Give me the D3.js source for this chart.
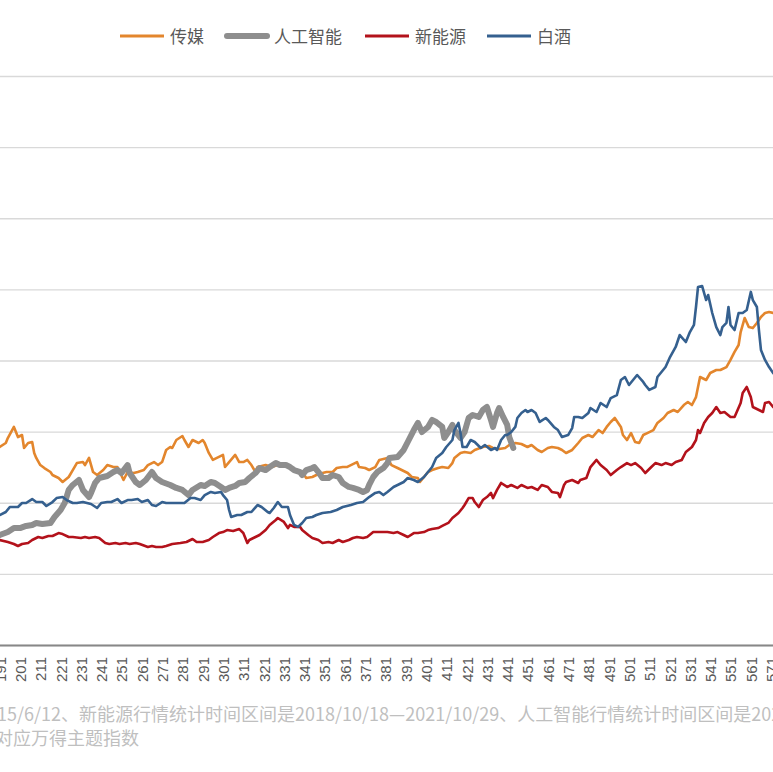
<!DOCTYPE html>
<html>
<head>
<meta charset="utf-8">
<script src="https://cdn.jsdelivr.net/npm/d3@7"></script>
<style>
  body { margin: 0; background: #fff; }
  svg { display: block; }
</style>
</head>
<body>
<div id="chart"></div>
<script>
// series names / colours in legend order
const seriesNames = ["传媒", "人工智能", "新能源", "白酒"];
const seriesColors = ["#E3862D", "#8E8E8E", "#B3121B", "#35608F"];
const seriesWidths = [2.6, 6, 2.6, 2.6];

// x = trading-day index, y = relative value
const mediaSeries = [[189,1.38],[191,1.392],[194,1.420],[195,1.455],[198,1.533],[200,1.462],[202,1.476],[203,1.385],[205,1.420],[207,1.427],[208,1.350],[209,1.315],[211,1.265],[213,1.244],[216,1.216],[217,1.195],[220,1.174],[222,1.146],[225,1.181],[227,1.230],[229,1.279],[232,1.286],[233,1.265],[235,1.315],[237,1.216],[239,1.195],[242,1.230],[244,1.265],[247,1.251],[249,1.251],[252,1.160],[254,1.216],[257,1.209],[259,1.216],[262,1.230],[264,1.265],[267,1.286],[269,1.265],[271,1.286],[273,1.371],[275,1.392],[276,1.385],[278,1.441],[281,1.469],[282,1.441],[284,1.392],[286,1.441],[289,1.420],[291,1.441],[292,1.420],[294,1.350],[296,1.301],[298,1.315],[301,1.336],[302,1.251],[304,1.286],[307,1.336],[309,1.286],[311,1.286],[313,1.301],[315,1.265],[317,1.216],[318,1.251],[322,1.265],[325,1.251],[328,1.265],[331,1.265],[334,1.251],[337,1.230],[340,1.216],[342,1.174],[345,1.181],[347,1.195],[350,1.209],[352,1.216],[355,1.216],[357,1.244],[360,1.251],[362,1.251],[365,1.272],[367,1.286],[368,1.251],[371,1.244],[373,1.230],[376,1.251],[378,1.301],[382,1.315],[384,1.265],[387,1.244],[389,1.230],[392,1.209],[394,1.181],[397,1.174],[398,1.146],[400,1.181],[402,1.216],[404,1.230],[407,1.244],[409,1.251],[412,1.244],[414,1.279],[415,1.315],[418,1.350],[420,1.357],[423,1.350],[425,1.371],[429,1.392],[432,1.399],[434,1.385],[437,1.378],[440,1.385],[442,1.406],[445,1.420],[448,1.413],[451,1.392],[453,1.406],[456,1.371],[458,1.357],[461,1.385],[463,1.392],[466,1.385],[468,1.371],[470,1.350],[473,1.371],[476,1.420],[478,1.455],[481,1.476],[483,1.462],[486,1.511],[488,1.490],[490,1.533],[492,1.568],[494,1.596],[497,1.533],[498,1.476],[500,1.441],[502,1.490],[504,1.427],[506,1.420],[508,1.476],[510,1.490],[513,1.511],[515,1.561],[518,1.596],[520,1.631],[523,1.652],[525,1.638],[528,1.687],[530,1.708],[532,1.687],[534,1.743],[535,1.814],[536,1.884],[539,1.863],[541,1.912],[544,1.933],[546,1.933],[549,1.954],[551,2.004],[553,2.060],[555,2.109],[556,2.200],[558,2.299],[560,2.235],[562,2.228],[564,2.264],[566,2.306],[568,2.334],[570,2.341],[572,2.334],[574,2.320]];

const aiSeries = [[189,0.76],[191,0.773],[195,0.794],[198,0.822],[201,0.822],[204,0.837],[207,0.844],[209,0.858],[212,0.851],[216,0.858],[218,0.900],[221,0.949],[223,0.998],[225,1.090],[227,1.125],[230,1.160],[232,1.090],[235,1.040],[236,1.069],[238,1.139],[240,1.174],[244,1.188],[247,1.216],[249,1.230],[251,1.209],[254,1.265],[255,1.209],[258,1.146],[260,1.125],[263,1.160],[266,1.216],[268,1.174],[271,1.146],[275,1.125],[278,1.104],[281,1.090],[284,1.054],[286,1.090],[290,1.125],[292,1.118],[295,1.146],[297,1.139],[300,1.111],[302,1.090],[304,1.104],[307,1.118],[309,1.139],[312,1.146],[314,1.174],[317,1.209],[319,1.244],[322,1.230],[324,1.251],[327,1.279],[329,1.265],[332,1.265],[334,1.251],[336,1.230],[339,1.216],[340,1.195],[342,1.230],[345,1.244],[346,1.251],[348,1.216],[350,1.174],[353,1.174],[355,1.195],[358,1.181],[360,1.139],[363,1.111],[365,1.104],[368,1.090],[370,1.076],[372,1.090],[373,1.125],[375,1.181],[377,1.216],[380,1.244],[382,1.279],[383,1.315],[387,1.322],[390,1.371],[392,1.427],[395,1.511],[397,1.561],[399,1.497],[402,1.533],[404,1.582],[406,1.568],[409,1.533],[410,1.455],[412,1.497],[414,1.547],[415,1.511],[418,1.455],[420,1.497],[422,1.596],[424,1.617],[427,1.603],[429,1.652],[431,1.673],[433,1.582],[434,1.533],[436,1.631],[437,1.666],[439,1.603],[441,1.547],[442,1.462],[444,1.385]];

const energySeries = [[189,0.74],[191,0.738],[195,0.724],[198,0.710],[200,0.696],[202,0.710],[205,0.717],[207,0.738],[210,0.759],[212,0.752],[215,0.766],[217,0.766],[220,0.787],[222,0.780],[225,0.759],[227,0.759],[231,0.752],[233,0.759],[235,0.752],[238,0.759],[240,0.752],[243,0.717],[245,0.710],[248,0.717],[250,0.710],[253,0.717],[255,0.710],[258,0.717],[260,0.710],[264,0.689],[266,0.696],[268,0.689],[271,0.689],[273,0.696],[276,0.710],[280,0.717],[283,0.724],[286,0.745],[288,0.724],[291,0.724],[294,0.738],[296,0.759],[299,0.787],[301,0.794],[303,0.808],[306,0.801],[309,0.815],[311,0.787],[313,0.717],[314,0.738],[317,0.759],[319,0.773],[322,0.808],[324,0.844],[327,0.879],[328,0.893],[331,0.865],[333,0.822],[334,0.844],[336,0.830],[339,0.830],[340,0.808],[343,0.773],[345,0.752],[348,0.738],[350,0.717],[353,0.724],[355,0.717],[358,0.738],[360,0.724],[363,0.738],[365,0.752],[367,0.759],[370,0.752],[372,0.759],[375,0.794],[377,0.794],[380,0.794],[382,0.794],[385,0.787],[387,0.794],[390,0.773],[392,0.759],[395,0.787],[397,0.787],[400,0.794],[402,0.808],[404,0.815],[407,0.822],[409,0.837],[412,0.858],[414,0.893],[417,0.928],[419,0.963],[420,0.984],[422,1.033],[424,1.033],[425,1.005],[427,0.970],[429,1.019],[431,1.040],[433,1.069],[434,1.033],[436,1.090],[438,1.139],[441,1.111],[443,1.125],[446,1.104],[448,1.125],[451,1.104],[453,1.111],[456,1.090],[458,1.125],[461,1.111],[463,1.076],[466,1.069],[467,1.040],[469,1.125],[470,1.146],[473,1.160],[476,1.139],[477,1.160],[480,1.174],[482,1.251],[485,1.301],[487,1.265],[490,1.230],[492,1.195],[495,1.230],[497,1.251],[500,1.279],[502,1.265],[504,1.279],[507,1.244],[509,1.209],[512,1.251],[514,1.279],[517,1.265],[519,1.279],[522,1.265],[524,1.286],[527,1.301],[529,1.357],[532,1.392],[534,1.441],[535,1.511],[536,1.490],[538,1.561],[540,1.603],[542,1.631],[544,1.673],[546,1.631],[548,1.638],[551,1.603],[553,1.603],[556,1.701],[557,1.772],[559,1.814],[561,1.743],[562,1.673],[565,1.652],[567,1.638],[568,1.701],[570,1.708],[572,1.673],[574,1.66]];

const liquorSeries = [[189,0.90],[191,0.914],[194,0.935],[196,0.970],[200,0.970],[202,0.998],[204,0.998],[207,1.026],[209,1.005],[212,1.005],[214,0.977],[217,1.005],[219,1.033],[222,1.040],[224,1.019],[227,0.998],[229,0.998],[232,1.005],[234,0.998],[236,0.991],[239,0.963],[241,0.998],[244,1.005],[246,1.005],[249,1.026],[251,0.998],[254,1.019],[256,1.019],[259,1.026],[261,1.005],[264,1.019],[266,0.984],[268,0.977],[271,1.005],[273,0.998],[276,0.998],[280,0.998],[282,0.998],[285,1.033],[287,1.033],[290,1.019],[292,1.054],[295,1.076],[297,1.069],[300,1.076],[301,1.054],[303,1.019],[304,0.949],[305,0.900],[308,0.914],[310,0.914],[313,0.935],[315,0.935],[318,0.984],[320,0.970],[323,0.935],[324,0.928],[326,0.963],[328,1.005],[330,0.970],[333,0.970],[334,0.914],[336,0.844],[338,0.830],[340,0.858],[342,0.893],[345,0.900],[347,0.914],[350,0.928],[354,0.935],[357,0.949],[360,0.970],[364,0.984],[367,0.998],[370,1.005],[373,1.040],[376,1.069],[378,1.076],[380,1.054],[382,1.076],[385,1.111],[387,1.125],[390,1.146],[392,1.174],[395,1.160],[397,1.146],[400,1.181],[402,1.216],[404,1.251],[406,1.315],[409,1.350],[411,1.392],[414,1.441],[415,1.511],[417,1.561],[418,1.490],[419,1.392],[421,1.392],[423,1.441],[425,1.427],[428,1.385],[430,1.406],[433,1.371],[435,1.385],[436,1.371],[438,1.441],[440,1.476],[441,1.476],[443,1.497],[445,1.533],[446,1.596],[448,1.631],[450,1.652],[451,1.638],[453,1.652],[455,1.631],[457,1.568],[460,1.596],[461,1.582],[464,1.533],[466,1.511],[468,1.462],[471,1.476],[473,1.525],[474,1.603],[476,1.603],[478,1.596],[481,1.631],[482,1.666],[485,1.638],[487,1.701],[490,1.673],[492,1.736],[495,1.757],[497,1.863],[499,1.884],[501,1.828],[503,1.863],[505,1.898],[508,1.849],[509,1.828],[511,1.793],[514,1.814],[515,1.884],[517,1.919],[519,1.954],[521,2.018],[524,2.095],[526,2.179],[529,2.130],[531,2.200],[533,2.250],[534,2.376],[535,2.517],[537,2.524],[539,2.425],[540,2.460],[542,2.334],[544,2.235],[546,2.179],[547,2.235],[549,2.264],[550,2.376],[551,2.250],[553,2.214],[555,2.334],[557,2.334],[559,2.355],[561,2.482],[562,2.425],[564,2.376],[565,2.214],[566,2.074],[568,2.004],[570,1.954],[572,1.912],[574,1.884]];

// category tick labels that fall inside the crop, every 10 days
const xTicks = [191,201,211,221,231,241,251,261,271,281,291,301,311,321,331,341,351,361,371,381,391,401,411,421,431,441,451,461,471,481,491,501,511,521,531,541,551,561,571];
const yTicks = [0, 0.5, 1, 1.5, 2, 2.5, 3, 3.5, 4];

const noteLines = [
  "15/6/12、新能源行情统计时间区间是2018/10/18—2021/10/29、人工智能行情统计时间区间是202",
  "对应万得主题指数"
];

const allSeries = [mediaSeries, aiSeries, energySeries, liquorSeries];

const W = 773, H = 772;
const svg = d3.select("#chart").append("svg")
  .attr("width", W)
  .attr("height", H);

// the picture is a crop: the plot starts well left of the frame
let xCrop = d3.scaleLinear().domain([201, 571]).range([20, 771.1]);
const xFullDomain = [1, 600];
const xScale = xCrop.copy().domain(xFullDomain).range(xFullDomain.map(xCrop));
const yScale = d3.scaleLinear().domain([0, 4]).range([645, 76]);

const plotLeft = xScale(1), plotRight = xScale(600);

// horizontal gridlines (value labels are outside the crop, so none drawn)
const yAxis = svg.append("g")
  .attr("transform", "translate(" + plotLeft + ",0)")
  .call(d3.axisLeft(yScale).tickValues(yTicks)
    .tickSize(-(plotRight - plotLeft))
    .tickFormat(""));
yAxis.select(".domain").remove();
yAxis.selectAll(".tick text").remove();
yAxis.selectAll(".tick line")
  .attr("stroke", "#d9d9d9")
  .attr("stroke-width", 1.4);

// lines, drawn in series order
const line = d3.line()
  .x(d => xScale(d[0]))
  .y(d => yScale(d[1]));

svg.append("g").selectAll("path.series")
  .data(allSeries)
  .enter().append("path")
  .attr("class", "series")
  .attr("d", line)
  .attr("fill", "none")
  .attr("stroke", (d, i) => seriesColors[i])
  .attr("stroke-width", (d, i) => seriesWidths[i])
  .attr("stroke-linejoin", "round")
  .attr("stroke-linecap", "round");

// bottom category axis
const xAxis = svg.append("g")
  .attr("transform", "translate(0," + yScale(0) + ")")
  .call(d3.axisBottom(xScale).tickValues(xTicks).tickSize(0).tickSizeOuter(0));
xAxis.select(".domain")
  .attr("stroke", "#878787")
  .attr("stroke-width", 2);
xAxis.selectAll(".tick text")
  .attr("transform", "rotate(-90)")
  .attr("x", -12)
  .attr("y", 0)
  .attr("dy", "0.36em")
  .style("text-anchor", "end")
  .style("font-family", "'Liberation Sans', Arial, sans-serif")
  .style("font-size", "15px")
  .attr("fill", "#595959");

// legend
const legendX = [120, 224, 365, 487];
const legend = svg.append("g").attr("transform", "translate(0,36)");
seriesNames.forEach((name, i) => {
  const g = legend.append("g").attr("transform", "translate(" + legendX[i] + ",0)");
  g.append("line")
    .attr("x1", i === 1 ? 3 : 0).attr("x2", i === 1 ? 43 : 44)
    .attr("y1", 0).attr("y2", 0)
    .attr("stroke", seriesColors[i])
    .attr("stroke-width", i === 1 ? 6 : 3)
    .attr("stroke-linecap", i === 1 ? "round" : "butt");
  g.append("text")
    .attr("x", 50)
    .attr("y", 6.5)
    .style("font-family", "'Noto Sans CJK SC', sans-serif")
    .style("font-size", "17px")
    .attr("fill", "#595959")
    .text(name);
});

// footnote (cut by the frame like the original)
svg.append("text")
  .attr("x", -3).attr("y", 721)
  .style("font-family", "'Noto Sans CJK SC', sans-serif")
  .style("font-size", "18px")
  .attr("fill", "#bfbfbf")
  .text(noteLines[0]);
svg.append("text")
  .attr("x", -5).attr("y", 745)
  .style("font-family", "'Noto Sans CJK SC', sans-serif")
  .style("font-size", "18px")
  .attr("fill", "#bfbfbf")
  .text(noteLines[1]);
</script>
</body>
</html>
